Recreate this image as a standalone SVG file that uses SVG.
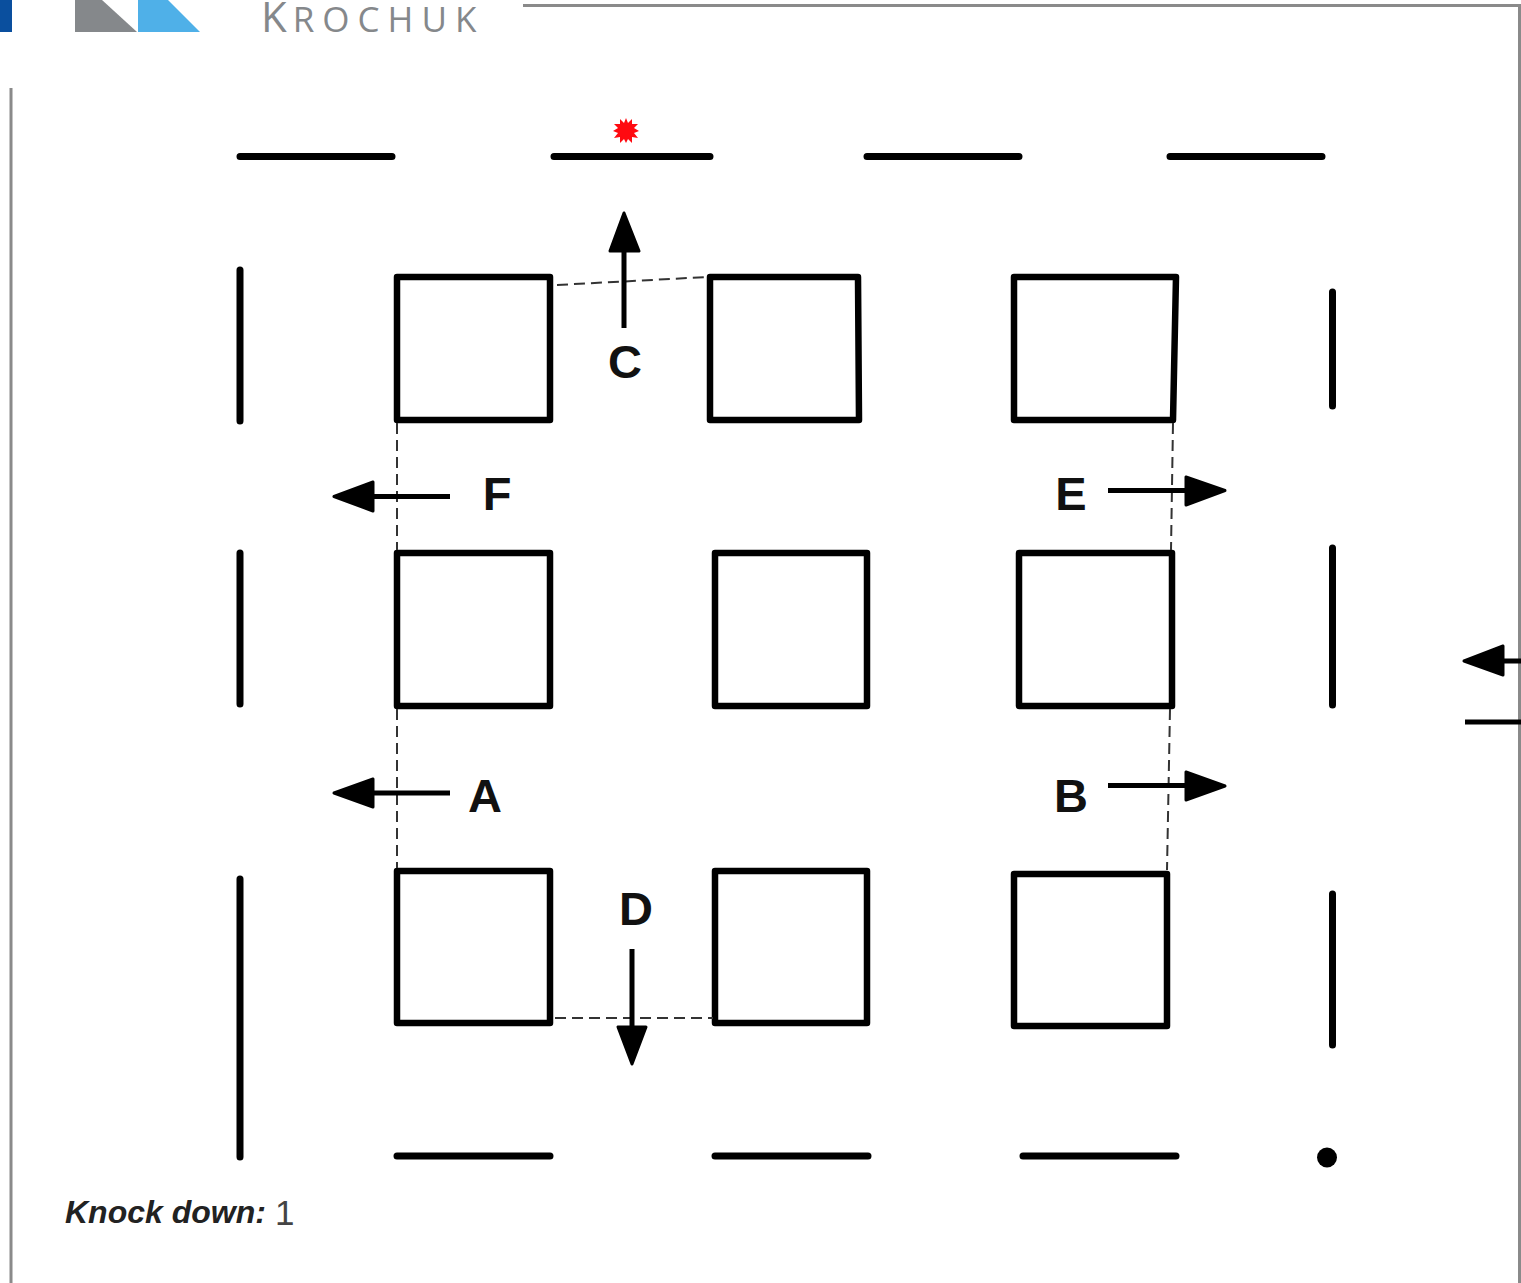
<svg xmlns="http://www.w3.org/2000/svg" width="1521" height="1283" viewBox="0 0 1521 1283">
<style>
.sq{fill:none;stroke:#000;stroke-width:6.500;stroke-linejoin:round}
.w{fill:none;stroke:#000;stroke-width:7;stroke-linecap:round}
.d{fill:none;stroke:#333;stroke-width:2;stroke-dasharray:11 6}
.a{fill:none;stroke:#000;stroke-width:5}
.h{fill:#000;stroke:#000;stroke-width:3;stroke-linejoin:round}
.b{font:bold 47px "Liberation Sans",Arial,sans-serif;fill:#111;text-anchor:middle}
.f{fill:none;stroke:#8a8a8a;stroke-width:3}
</style>
<rect width="1521" height="1283" fill="#fff"/>
<g id="logo">
<rect x="0" y="0" width="12" height="32" fill="#0a4f9e"/>
<polygon points="75,0 102,0 137,32 75,32" fill="#85888b"/>
<polygon points="138,0 168,0 200,32 138,32" fill="#4fb0e8"/>
<text x="261" y="32" font-family="'Open Sans','Noto Sans',sans-serif" font-size="42" fill="#85888b" letter-spacing="6">K<tspan font-size="35" letter-spacing="8">ROCHUK</tspan></text>
</g>
<g id="frame">
<path class="f" d="M523 5.500H1519.500V1283"/>
<path class="f" d="M11 88V1283"/>
</g>
<g id="walls">
<path class="w" d="M240 156.500H392M554 156.500H710M867 156.500H1019M1170 156.500H1322"/>
<path class="w" d="M240 270V421M240 553V704M240 879V1157M1332.500 292V406M1332.500 548V705M1332.500 894V1045"/>
<path class="w" d="M397 1156H550M715 1156H868M1023 1156H1176"/>
<path class="w" d="M1465 722H1521" style="stroke-width:5;stroke-linecap:butt"/>
</g>
<g id="columns">
<rect id="col1" class="sq" x="397" y="277" width="153" height="143"/>
<polygon id="col2" class="sq" points="710,277 858,277 859,420 710,420"/>
<polygon id="col3" class="sq" points="1014,277 1176,277 1173,420 1014,420"/>
<rect id="col4" class="sq" x="397" y="553" width="153" height="153"/>
<rect id="col5" class="sq" x="715" y="553" width="152" height="153"/>
<rect id="col6" class="sq" x="1019" y="553" width="153" height="153"/>
<rect id="col7" class="sq" x="397" y="871" width="153" height="152"/>
<rect id="col8" class="sq" x="715" y="871" width="152" height="152"/>
<rect id="col9" class="sq" x="1014" y="874" width="153" height="152"/>
</g>
<g id="connectors">
<path class="d" d="M557 285L708 277"/>
<path class="d" d="M397 423V550M397 709V868"/>
<path class="d" d="M1173 423L1171 550M1170 709L1167 870"/>
<path class="d" d="M555 1018H713"/>
<path class="a" d="M624 328V250M632 949V1028M450 496.500H372M450 793H372M1108 490.500H1187M1108 785.500H1187M1521 661H1503"/>
<polygon class="h" points="624,213 639,251 610,251"/>
<polygon class="h" points="632,1064 618,1027 646,1027"/>
<polygon class="h" points="334,496.500 373,482 373,511"/>
<polygon class="h" points="334,793 373,779 373,807"/>
<polygon class="h" points="1225,490.500 1186,477 1186,505"/>
<polygon class="h" points="1225,786 1186,772 1186,800"/>
<polygon class="h" points="1464,661 1503,646 1503,675"/>
</g>
<g id="labels">
<text class="b" x="625" y="378">C</text>
<text class="b" x="497" y="510">F</text>
<text class="b" x="1071" y="510">E</text>
<text class="b" x="485" y="812">A</text>
<text class="b" x="1071" y="812">B</text>
<text class="b" x="636" y="925">D</text>
<text x="65" y="1223" font-family="'Liberation Sans',Arial,sans-serif" font-size="32" font-weight="bold" font-style="italic" fill="#222">Knock down:</text>
<text x="275" y="1225" font-family="'Liberation Sans',Arial,sans-serif" font-size="35" fill="#444">1</text>
</g>
<g id="markers">
<polygon fill="#ff0a10" points="626,118 628,123 632,119 632,124 638,124 634,128 639,131 634,133 638,138 632,137 632,143 628,139 626,143 624,139 620,143 620,137 614,138 618,133 613,131 618,128 614,124 620,124 620,119 624,123"/>
<circle cx="1327" cy="1157.500" r="10" fill="#000"/>
</g>
</svg>
